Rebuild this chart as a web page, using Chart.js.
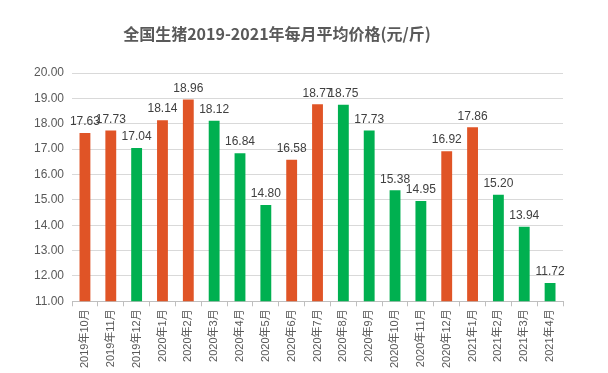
<!DOCTYPE html>
<html>
<head>
<meta charset="utf-8">
<script src="https://cdn.jsdelivr.net/npm/chart.js@4"></script>
<style>
  html, body { margin: 0; padding: 0; background: #fff; }
  #wrap { width: 608px; height: 373px; }
</style>
</head>
<body>
<div id="wrap"><canvas id="priceChart"></canvas></div>
<script>
var months = ['2019年10月', '2019年11月', '2019年12月', '2020年1月', '2020年2月', '2020年3月', '2020年4月',
  '2020年5月', '2020年6月', '2020年7月', '2020年8月', '2020年9月', '2020年10月', '2020年11月',
  '2020年12月', '2021年1月', '2021年2月', '2021年3月', '2021年4月'];
var prices = [17.63, 17.73, 17.04, 18.14, 18.96, 18.12, 16.84, 14.80, 16.58, 18.77, 18.75, 17.73,
  15.38, 14.95, 16.92, 17.86, 15.20, 13.94, 11.72];
// up = red, down = green, as in the original
var rising = [1, 1, 0, 1, 1, 0, 0, 0, 1, 1, 0, 0, 0, 0, 1, 1, 0, 0, 0];
var yTicks = [11, 12, 13, 14, 15, 16, 17, 18, 19, 20];

var fontFamily = '"Liberation Sans", "Noto Sans CJK SC", sans-serif';

var barLabels = {
  id: 'barLabels',
  afterDatasetsDraw: function (chart) {
    var ctx = chart.ctx;
    var meta = chart.getDatasetMeta(0);
    ctx.save();
    ctx.font = '12px ' + fontFamily;
    ctx.fillStyle = '#404040';
    ctx.textAlign = 'center';
    ctx.textBaseline = 'bottom';
    meta.data.forEach(function (bar, i) {
      ctx.fillText(prices[i].toFixed(2), bar.x, bar.y - 5);
    });
    ctx.restore();
  }
};

var titleText = {
  id: 'titleText',
  afterDraw: function (chart) {
    var ctx = chart.ctx;
    ctx.save();
    ctx.font = 'bold 16px "Noto Sans CJK SC", sans-serif';
    ctx.fillStyle = '#595959';
    ctx.textAlign = 'center';
    ctx.textBaseline = 'middle';
    ctx.fillText('全国生猪2019-2021年每月平均价格(元/斤)', 277, 34);
    ctx.restore();
  }
};

new Chart(document.getElementById('priceChart'), {
  type: 'bar',
  data: {
    labels: months,
    datasets: [{
      data: prices,
      backgroundColor: rising.map(function (r) { return r ? '#E05426' : '#00B050'; }),
      borderWidth: 0,
      barPercentage: 0.42,
      categoryPercentage: 1
    }]
  },
  options: {
    responsive: true,
    maintainAspectRatio: false,
    animation: false,
    layout: { padding: { top: 73, right: 45, left: 26, bottom: 2 } },
    plugins: {
      legend: { display: false },
      tooltip: { enabled: false }
    },
    scales: {
      x: {
        grid: {
          offset: true,
          drawOnChartArea: false,
          color: '#bfbfbf',
          tickLength: 5
        },
        border: { color: '#bfbfbf' },
        ticks: {
          minRotation: 90,
          maxRotation: 90,
          autoSkip: false,
          padding: 3,
          color: '#595959',
          font: { size: 11, family: fontFamily }
        }
      },
      y: {
        min: yTicks[0],
        max: yTicks[yTicks.length - 1],
        afterBuildTicks: function (axis) {
          axis.ticks = yTicks.map(function (v) { return { value: v }; });
        },
        grid: { color: '#d9d9d9', drawTicks: false },
        border: { display: false },
        ticks: {
          padding: 8,
          color: '#595959',
          font: { size: 12, family: fontFamily },
          callback: function (v) { return v.toFixed(2); }
        }
      }
    }
  },
  plugins: [barLabels, titleText]
});
</script>
</body>
</html>
